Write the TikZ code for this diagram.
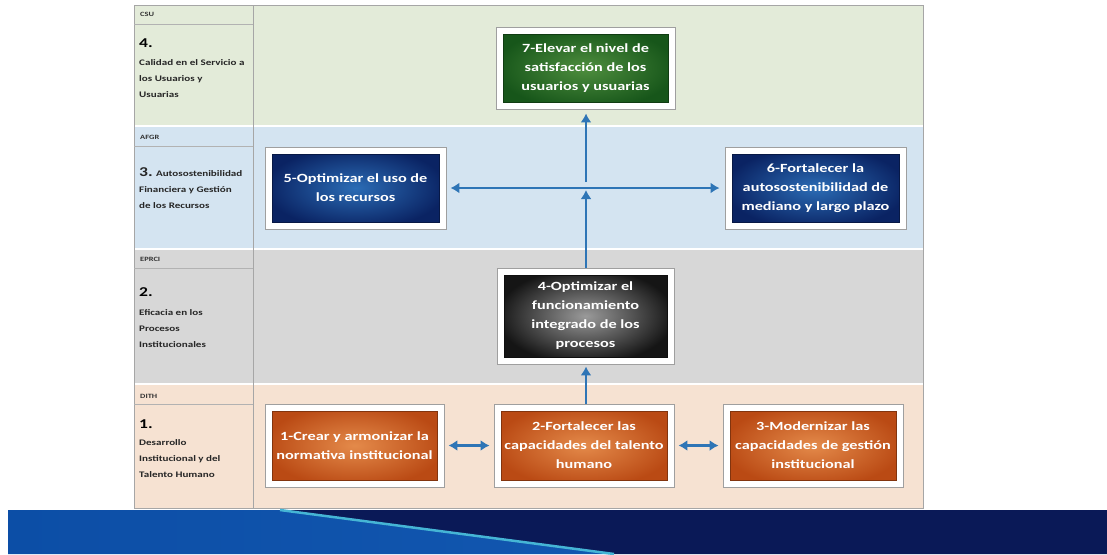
\documentclass[tikz,border=0pt]{standalone}
\usepackage{fontspec}
\setmainfont[FakeStretch=1.3]{Carlito}
\usetikzlibrary{arrows.meta}
\definecolor{bandG}{HTML}{E3EBD9}
\definecolor{bandB}{HTML}{D4E4F1}
\definecolor{bandY}{HTML}{D7D7D7}
\definecolor{bandP}{HTML}{F6E2D2}
\definecolor{arrowBlue}{HTML}{2E75B6}
\definecolor{gIn}{HTML}{4E8E3E}\definecolor{gOut}{HTML}{17561A}
\definecolor{bIn}{HTML}{2B6CB5}\definecolor{bOut}{HTML}{0A2363}
\definecolor{kIn}{HTML}{9A9A9A}\definecolor{kOut}{HTML}{151515}
\definecolor{oIn}{HTML}{E48A4A}\definecolor{oOut}{HTML}{BA4A14}
\definecolor{barBlue}{HTML}{0C4EA6}
\definecolor{barBlueL}{HTML}{1257B0}
\definecolor{barNavy}{HTML}{0A1957}
\definecolor{barCyan}{HTML}{45B5D5}
\tikzset{
  goal/.style 2 args={draw=gray!75, line width=0.8pt, fill=white, inner sep=0pt,
    text=white, align=center, font=\bfseries\fontsize{12.5}{19}\selectfont,
    path picture={
      \shade[inner color=#1, outer color=#2]
        ([xshift=7pt,yshift=-7pt]path picture bounding box.north west) rectangle
        ([xshift=-7pt,yshift=7pt]path picture bounding box.south east);
      \draw[#2!70!black, line width=0.8pt]
        ([xshift=7pt,yshift=-7pt]path picture bounding box.north west) rectangle
        ([xshift=-7pt,yshift=7pt]path picture bounding box.south east);
    }},
  lbl/.style={anchor=north west, inner sep=0pt, align=left, text=black!85,
    font=\bfseries\fontsize{8.5}{16}\selectfont},
  hdr/.style={anchor=west, inner sep=0pt, text=black!80, font=\bfseries\fontsize{6.5}{7}\selectfont},
  num/.style={anchor=west, inner sep=0pt, text=black, font=\bfseries\fontsize{13.5}{16}\selectfont},
  conn/.style={draw=arrowBlue, line width=2.6pt, -{Latex[length=9pt,width=11pt]}},
  conn2/.style={draw=arrowBlue, line width=2.6pt, {Latex[length=9pt,width=11pt]}-{Latex[length=9pt,width=11pt]}}
}
\begin{document}
\begin{tikzpicture}[x=1pt,y=-1pt]
\useasboundingbox (0,0) rectangle (1107,554);
\fill[white] (0,0) rectangle (1107,554);
% bands
\fill[bandG] (134,5) rectangle (923,126);
\fill[bandB] (134,126) rectangle (923,249);
\fill[bandY] (134,249) rectangle (923,384);
\fill[bandP] (134,384) rectangle (923,508);
\draw[white, line width=1.2pt] (134,126) -- (923,126) (134,249) -- (923,249) (134,384) -- (923,384);
\draw[gray!70, line width=0.8pt] (134,5) rectangle (923,508);
\draw[gray!70, line width=0.8pt] (253,5) -- (253,508);
\draw[gray!60, line width=0.8pt] (134,24) -- (253,24) (134,146) -- (253,146) (134,268) -- (253,268) (134,404) -- (253,404);
% left labels
\node[hdr] (h4) at (140,14) {CSU};
\node[num] (n4) at (139,43) {4.};
\node[lbl] (l4) at (139,59) {Calidad en el Servicio a\\los Usuarios y\\Usuarias};
\node[hdr] (h3) at (140,137) {AFGR};
\node[lbl] (l3) at (139,167) {{\fontsize{13.5}{16}\selectfont 3.} Autosostenibilidad\\Financiera y Gestión\\de los Recursos};
\node[hdr] (h2) at (140,259) {EPRCI};
\node[num] (n2) at (139,292) {2.};
\node[lbl] (l2) at (139,309) {Eficacia en los\\Procesos\\Institucionales};
\node[hdr] (h1) at (140,396) {DITH};
\node[num] (n1) at (139,424) {1.};
\node[lbl] (l1) at (139,439) {Desarrollo\\Institucional y del\\Talento Humano};
% goal boxes
\node[goal={gIn}{gOut}, minimum width=179pt, minimum height=82pt] (g7) at (585.5,68) {7-Elevar el nivel de\\satisfacción de los\\usuarios y usuarias};
\node[goal={bIn}{bOut}, minimum width=181pt, minimum height=82pt] (g5) at (355.5,188) {5-Optimizar el uso de\\los recursos};
\node[goal={bIn}{bOut}, minimum width=181pt, minimum height=82pt] (g6) at (815.5,188) {6-Fortalecer la\\autosostenibilidad de\\mediano y largo plazo};
\node[goal={kIn}{kOut}, minimum width=177pt, minimum height=96pt] (g4) at (585.5,316) {4-Optimizar el\\funcionamiento\\integrado de los\\procesos};
\node[goal={oIn}{oOut}, minimum width=179pt, minimum height=83pt] (g1) at (354.5,445.5) {1-Crear y armonizar la\\normativa institucional};
\node[goal={oIn}{oOut}, minimum width=180pt, minimum height=83pt] (g2) at (584,445.5) {2-Fortalecer las\\capacidades del talento\\humano};
\node[goal={oIn}{oOut}, minimum width=180pt, minimum height=83pt] (g3) at (813,445.5) {3-Modernizar las\\capacidades de gestión\\institucional};
% connectors
\coordinate (hub) at (586,182);
\coordinate (hubB) at (586,190);
\draw[conn2] ([xshift=4pt]g5.east) -- ([xshift=-5pt]g6.west);
\draw[conn] (g4.north -| hub) -- (hubB);
\draw[conn] (hub) -- ([yshift=-4pt]g7.south -| hub);
\draw[conn] (g2.north -| hub) -- ([yshift=-2pt]g4.south -| hub);
\draw[conn2] ([xshift=4pt]g1.east) -- ([xshift=-4pt]g2.west);
\draw[conn2] ([xshift=4pt]g2.east) -- ([xshift=-4pt]g3.west);
% bottom bar
\fill[barNavy] (282,510) -- (1107,510) -- (1107,554) -- (614,554) -- cycle;
\shade[left color=barBlue, right color=barBlueL] (8,510) -- (282,510) -- (614,554) -- (8,554) -- cycle;
\draw[barCyan, line width=2.5pt] (280,510) -- (614,554);
\end{tikzpicture}
\end{document}
